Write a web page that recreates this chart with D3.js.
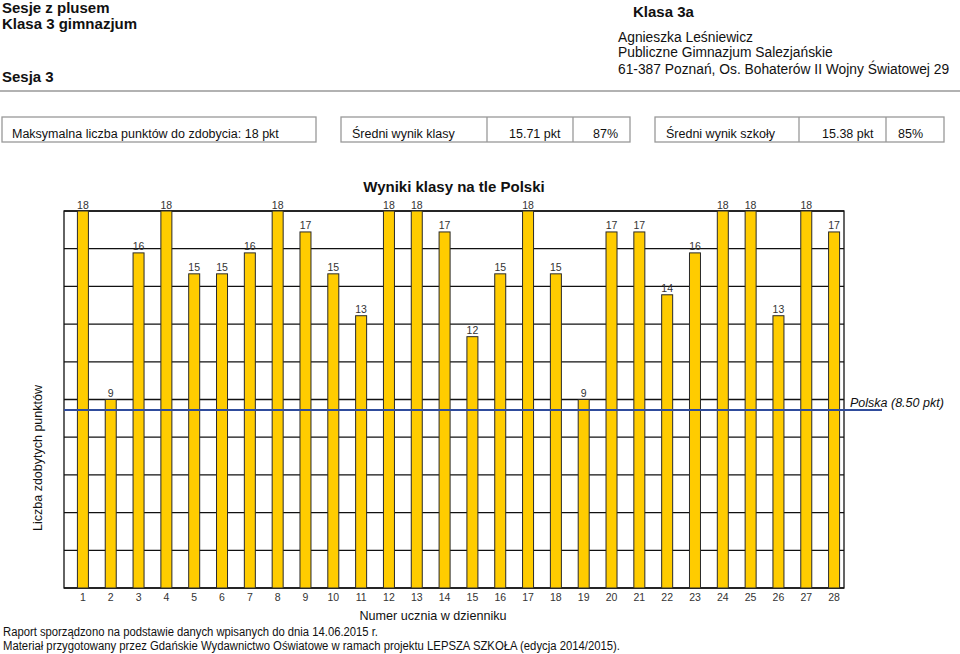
<!DOCTYPE html>
<html><head><meta charset="utf-8">
<script src="https://cdn.jsdelivr.net/npm/d3@7"></script>
<style>
body{margin:0;background:#fff;}
svg{display:block;font-family:"Liberation Sans",Arial,sans-serif;}
</style></head>
<body>
<svg id="c" width="960" height="654"></svg>
<script>
const students = d3.range(1, 29);
const scores = [18,9,16,18,15,15,16,18,17,15,13,18,18,17,12,15,18,15,9,17,17,14,16,18,18,13,18,17];
const maxPoints = 18;
const polskaAvg = 8.5;
const gridValues = d3.range(0, 11).map(i => i * 1.8);

const svg = d3.select("#c");

// Header
const hdr = [
  {t:"Sesje z plusem", x:2, y:13, b:true, s:15},
  {t:"Klasa 3 gimnazjum", x:2, y:29, b:true, s:15},
  {t:"Sesja 3", x:2, y:82, b:true, s:15},
  {t:"Klasa 3a", x:633, y:17, b:true, s:15},
  {t:"Agnieszka Leśniewicz", x:618, y:42, b:false, s:13.8},
  {t:"Publiczne Gimnazjum Salezjańskie", x:618, y:57, b:false, s:13.8},
  {t:"61-387 Poznań, Os. Bohaterów II Wojny Światowej 29", x:618, y:74, b:false, s:13.8}
];
svg.selectAll("text.hdr").data(hdr).join("text").attr("class","hdr")
  .attr("x",d=>d.x).attr("y",d=>d.y).attr("font-size",d=>d.s)
  .attr("font-weight",d=>d.b?"bold":"normal").attr("fill","#111").text(d=>d.t);
svg.append("line").attr("x1",0).attr("x2",960).attr("y1",91).attr("y2",91)
  .attr("stroke","#999").attr("stroke-width",1.5);

// Info boxes
const boxes = [
  {x:2, w:314, cells:[{t:"Maksymalna liczba punktów do zdobycia: 18 pkt", x:12}], divs:[]},
  {x:341, w:289, cells:[{t:"Średni wynik klasy", x:352},{t:"15.71 pkt", x:509},{t:"87%", x:593}], divs:[487,573]},
  {x:655, w:289, cells:[{t:"Średni wynik szkoły", x:666},{t:"15.38 pkt", x:822},{t:"85%", x:898}], divs:[799,886]}
];
boxes.forEach(b=>{
  svg.append("rect").attr("x",b.x).attr("y",117).attr("width",b.w).attr("height",25)
    .attr("fill","none").attr("stroke","#999").attr("stroke-width",1.3);
  b.divs.forEach(dx=>svg.append("line").attr("x1",dx).attr("x2",dx).attr("y1",117).attr("y2",142)
    .attr("stroke","#999").attr("stroke-width",1.3));
  b.cells.forEach(c=>svg.append("text").attr("x",c.x).attr("y",137.5).attr("font-size",12.5)
    .attr("fill","#111").text(c.t));
});

// Chart
const plot = {l:64, r:844, t:211, b:588};
const x = d3.scaleBand().domain(students).range([69, 848]).paddingInner(0.6).paddingOuter(0.3);
const y = d3.scaleLinear().domain([0, maxPoints]).range([plot.b, plot.t]);

svg.append("text").attr("x",454).attr("y",192).attr("text-anchor","middle")
  .attr("font-size",15).attr("font-weight","bold").attr("fill","#111").text("Wyniki klasy na tle Polski");

// gridlines
svg.append("g").selectAll("line").data(gridValues).join("line")
  .attr("x1",plot.l).attr("x2",plot.r).attr("y1",d=>y(d)).attr("y2",d=>y(d))
  .attr("stroke","#111").attr("stroke-width",1.3);
svg.append("rect").attr("x",plot.l).attr("y",plot.t).attr("width",plot.r-plot.l).attr("height",plot.b-plot.t)
  .attr("fill","none").attr("stroke","#111").attr("stroke-width",1.3);

const bw = 11;
const cx = d => x(d) + x.bandwidth()/2;
svg.append("g").selectAll("rect").data(students).join("rect")
  .attr("x",d=>cx(d)-bw/2).attr("width",bw)
  .attr("y",(d,i)=>y(scores[i])).attr("height",(d,i)=>y(0)-y(scores[i]))
  .attr("fill","#FFCC00").attr("stroke","#2a2a2a").attr("stroke-width",1);

svg.append("g").selectAll("text").data(students).join("text")
  .attr("x",d=>cx(d)).attr("y",(d,i)=>y(scores[i])-2.5).attr("text-anchor","middle")
  .attr("font-size",10.5).attr("fill","#333").text((d,i)=>scores[i]);

// Polska line
svg.append("line").attr("x1",plot.l).attr("x2",882).attr("y1",y(polskaAvg)).attr("y2",y(polskaAvg))
  .attr("stroke","#2F4C9C").attr("stroke-width",2);
svg.append("text").attr("x",850).attr("y",y(polskaAvg)-3).attr("font-size",12.5).attr("font-style","italic")
  .attr("fill","#111").text("Polska (8.50 pkt)");

// x axis
const xAxis = svg.append("g").attr("transform",`translate(0,${plot.b})`)
  .call(d3.axisBottom(x).tickSize(0).tickPadding(4));
xAxis.select(".domain").remove();
xAxis.selectAll("text").attr("font-size",10.5).attr("fill","#333").attr("font-family","Liberation Sans, Arial, sans-serif").attr("dy","0.9em");

svg.append("text").attr("x",433).attr("y",619.5).attr("text-anchor","middle").attr("font-size",12.6)
  .attr("fill","#111").text("Numer ucznia w dzienniku");
svg.append("text").attr("transform","translate(42,458) rotate(-90)").attr("text-anchor","middle")
  .attr("font-size",12.5).attr("fill","#111").text("Liczba zdobytych punktów");

// Footer
svg.append("text").attr("x",3).attr("y",636).attr("font-size",12).attr("fill","#111")
  .attr("textLength",375).attr("lengthAdjust","spacingAndGlyphs")
  .text("Raport sporządzono na podstawie danych wpisanych do dnia 14.06.2015 r.");
svg.append("text").attr("x",3).attr("y",650).attr("font-size",12).attr("fill","#111")
  .attr("textLength",617).attr("lengthAdjust","spacingAndGlyphs")
  .text("Materiał przygotowany przez Gdańskie Wydawnictwo Oświatowe w ramach projektu LEPSZA SZKOŁA (edycja 2014/2015).");
</script>
</body></html>
